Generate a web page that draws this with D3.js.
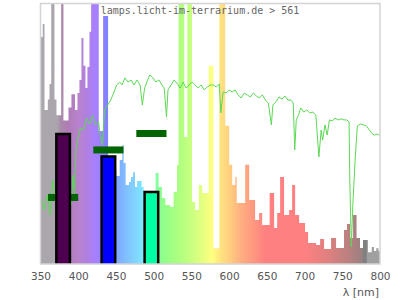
<!DOCTYPE html>
<html>
<head>
<meta charset="utf-8">
<script src="https://cdnjs.cloudflare.com/ajax/libs/d3/7.8.5/d3.min.js"></script>
<style>
  body { margin: 0; background: #fff; }
  svg { display: block; }
</style>
</head>
<body>
<svg id="chart" width="400" height="300"></svg>
<script>
// lamp spectrum (step start wavelength, relative intensity)
const specNm = [350, 353, 355.3, 359.7, 361.9, 364.2, 368.5, 371.2, 377.4, 380.4, 387.1, 391, 395.7, 399, 401.6,
  404.3, 406.9, 409.6, 412.2, 414.9, 417.1, 427.2, 433, 439.6, 450.6, 455, 458.5, 460.2, 462.9, 467.4, 470,
  472.7, 475.3, 478, 484.1, 486.7, 502.6, 506.6, 511, 515.4, 522, 526.4, 530.9, 533, 540.6, 544.6, 550.8,
  555.1, 559.8, 564.4, 573, 579.2, 586.9, 594.8, 600.1, 604.1, 608.1, 610.1, 621.3, 626.6, 634.5, 639.8,
  643.8, 653.7, 659.7, 663.7, 667.6, 672.9, 679.6, 683.5, 687.5, 692.8, 700.7, 704.7, 715.3, 720.6, 725.9,
  735.1, 741.8, 752.3, 756.3, 760.3, 764.3, 768.9, 773.5, 777.5, 784.1, 789, 792, 795, 798, 800];
const specVal = [87, 92, 59, 63, 69, 105, 63, 57, 100, 55, 60, 65, 59, 65.5, 70.5,
  86.6, 76, 67.4, 75.5, 89, 105, 51, 95, 36, 33.7, 39.8, 45.6, 38.7, 30.3, 31.4, 33.3,
  35.2, 29.5, 31.8, 29.5, 27, 34.9, 29.5, 25.3, 22.6, 21.8, 27.6, 37.9, 105, 48.7, 105, 23.8,
  20.7, 30.3, 27.2, 76, 6, 105, 53, 38, 30.3, 33.3, 23.4, 38, 24.5, 16.9, 19.5,
  14.9, 27.2, 13.8, 19.5, 33.3, 18.8, 20.7, 30.3, 18.8, 15.7, 12.3, 8, 7.3, 9.6, 5.7,
  10, 6.1, 13, 15.3, 10, 18.8, 10, 6.1, 9.2, 4.5, 6.5, 5, 6, 5, 5];

// reference daylight curve
const sunNm = [351, 355, 359, 363, 366, 369, 373, 377, 381, 385, 389, 391, 393, 395, 397, 399, 403, 407, 411,
  415, 419, 423, 427, 429, 432, 435, 439, 443, 447, 451, 455, 458, 462, 466, 470, 474, 478, 482, 485, 488,
  492, 495, 499, 503, 507, 511, 514, 517, 519, 523, 527, 531, 535, 539, 543, 547, 551, 555, 559, 563, 567,
  571, 575, 579, 583, 587, 589, 592, 596, 600, 604, 608, 612, 616, 620, 624, 628, 632, 636, 640, 644, 648,
  652, 656, 658, 662, 666, 670, 674, 678, 682, 685, 687, 689, 692, 695, 699, 703, 707, 711, 715, 719, 722,
  724, 727, 730, 733, 737, 740, 745, 748, 752, 756, 759, 760, 762, 764, 767, 770, 774, 778, 782, 786, 790,
  793, 797, 800];
const sunVal = [24.5, 20.7, 26.4, 18.8, 32.2, 26.4, 24, 28, 22, 26, 23, 22.6, 34, 26, 43.7, 47.5, 52.1, 51.3, 55.9,
  53.6, 57.1, 53.3, 54.4, 49.4, 45.6, 59, 60.9, 62.8, 65.5, 68.6, 69.7, 68.6, 71.3, 69.7, 70.5, 68.6, 70.5, 68.6, 60.9, 67.4,
  70.5, 72.4, 71.3, 69.7, 70.5, 68.6, 67.4, 56.3, 66.7, 68.6, 70.5, 69.3, 67.4, 69.7, 67.4, 68.6, 69.7, 68.6, 67.4, 68.6, 66.7,
  67.8, 68.6, 68.6, 67.8, 69, 57.9, 65.9, 65.5, 66.7, 65.9, 66.7, 64.8, 63.6, 65.5, 64.8, 64, 65.5, 64.4, 63.6, 64.8, 62.8,
  61.7, 53.3, 60.9, 62.1, 64, 63.2, 64.4, 62.8, 62.8, 61.7, 43.7, 55.2, 57.1, 59.8, 58.2, 59, 57.9, 58.2, 57.1, 41, 51.3,
  47.5, 53.3, 49.4, 55.2, 54.8, 55.9, 55.2, 55.6, 55.2, 55.2, 54.4, 32.2, 6.5, 22.6, 39.8, 52.9, 53.6, 53.3, 52.9, 51.3, 49.8,
  49.4, 49.8, 49];

// LED bands (centre wavelength, level) and target marks
const ledNm = [380, 440, 497];
const ledVal = [49.8, 41.2, 27.6];
const ledColor = ['#4d0050', '#0000ff', '#00ffa4'];
const markVal = [25.5, 43.7, 50];

// wavelength colour stops
const colorNm = [350, 372, 377, 386, 400, 412, 422, 432, 437, 450, 466, 482, 492, 500, 510, 530, 550, 566, 578,
  590, 600, 615, 632, 648, 700, 730, 760, 777, 777.5, 782, 782.5, 800];
const colorHex = ['#aba5ae', '#aba5ae', '#a98aa9', '#b07cb6', '#b882cc', '#b080e0', '#a880ff', '#9880ff', '#8080ff',
  '#80a4ff', '#80c4ff', '#80e0ff', '#80f4ff', '#80ffb4', '#8cff8c', '#a8ff80', '#c8ff80', '#e8ff80', '#ffff80',
  '#ffe080', '#ffd080', '#ffb080', '#ff9880', '#ff8080', '#ff8080', '#e08080', '#b88080', '#988080', '#808080',
  '#808080', '#a0a0a0', '#a0a0a0'];

const xTicks = [350, 400, 450, 500, 550, 600, 650, 700, 750, 800];

const svg = d3.select('#chart');
const plotLeft = 40.5, plotRight = 380, plotTop = 3, plotBottom = 264;

const x = d3.scaleLinear().domain([350, 800]).range([plotLeft, plotRight]);
const y = d3.scaleLinear().domain([0, 100]).range([plotBottom, plotTop]);

const defs = svg.append('defs');

defs.append('clipPath')
  .attr('id', 'plot-clip')
  .append('rect')
  .attr('x', plotLeft)
  .attr('y', plotTop)
  .attr('width', plotRight - plotLeft)
  .attr('height', plotBottom - plotTop);

defs.append('linearGradient')
  .attr('id', 'rainbow')
  .attr('gradientUnits', 'userSpaceOnUse')
  .attr('x1', x(350)).attr('x2', x(800))
  .attr('y1', 0).attr('y2', 0)
  .selectAll('stop')
  .data(colorNm)
  .enter()
  .append('stop')
  .attr('offset', d => (d - 350) / 450)
  .attr('stop-color', (d, i) => colorHex[i]);

const plot = svg.append('g').attr('clip-path', 'url(#plot-clip)');

// lamp spectrum
const spec = specNm.map((d, i) => [d, specVal[i]]);
plot.append('path')
  .datum(spec)
  .attr('fill', 'url(#rainbow)')
  .attr('d', d3.area()
    .curve(d3.curveStepAfter)
    .x(d => x(d[0]))
    .y0(y(0))
    .y1(d => y(d[1])));

// daylight line
const sun = sunNm.map((d, i) => [d, sunVal[i]]);
plot.append('path')
  .datum(sun)
  .attr('fill', 'none')
  .attr('stroke', '#5cd855')
  .attr('stroke-width', 1)
  .attr('d', d3.line()
    .x(d => x(d[0]))
    .y(d => y(d[1])));

// target marks
plot.selectAll('.mark')
  .data(ledNm)
  .enter()
  .append('rect')
  .attr('class', 'mark')
  .attr('x', d => x(d - 20))
  .attr('width', d => x(d + 20) - x(d - 20))
  .attr('y', (d, i) => y(markVal[i]) - 3.5)
  .attr('height', 7)
  .attr('fill', '#006400');

// LED bars
plot.selectAll('.led')
  .data(ledNm)
  .enter()
  .append('rect')
  .attr('class', 'led')
  .attr('x', d => x(d - 9))
  .attr('width', d => x(d + 9) - x(d - 9))
  .attr('y', (d, i) => y(ledVal[i]))
  .attr('height', (d, i) => y(-3) - y(ledVal[i]))
  .attr('fill', (d, i) => ledColor[i])
  .attr('stroke', '#000')
  .attr('stroke-width', 2.5);

// frame
svg.append('rect')
  .attr('x', plotLeft)
  .attr('y', plotTop + 0.5)
  .attr('width', plotRight - plotLeft)
  .attr('height', plotBottom - plotTop - 0.5)
  .attr('fill', 'none')
  .attr('stroke', '#d4d4d4')
  .attr('stroke-width', 1.5);

// x axis labels
const axis = svg.append('g')
  .attr('transform', `translate(0,${plotBottom})`)
  .call(d3.axisBottom(x).tickValues(xTicks).tickSize(0).tickPadding(9));
axis.select('.domain').remove();
axis.selectAll('text')
  .attr('font-family', 'DejaVu Sans')
  .attr('font-size', 10.5)
  .attr('fill', '#555');

svg.append('text')
  .attr('x', 379)
  .attr('y', 296)
  .attr('text-anchor', 'end')
  .attr('font-family', 'DejaVu Sans')
  .attr('font-size', 11)
  .attr('fill', '#555')
  .text('λ [nm]');

// title
svg.append('text')
  .attr('x', 200)
  .attr('y', 14)
  .attr('text-anchor', 'middle')
  .attr('font-family', 'DejaVu Sans Mono')
  .attr('font-size', 10)
  .attr('fill', '#666')
  .text('lamps.licht-im-terrarium.de > 561');
</script>
</body>
</html>
